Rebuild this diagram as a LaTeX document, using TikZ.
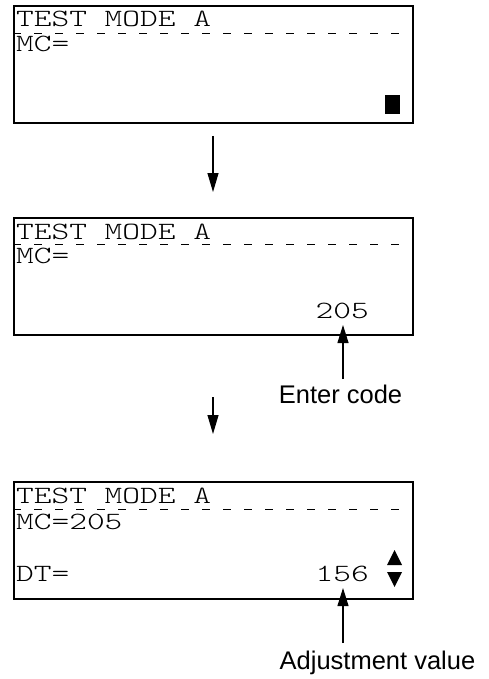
\documentclass[tikz,border=0pt]{standalone}
\usepackage{fontspec}
\newfontfamily\lcdfont[FakeStretch=1.36]{lmmonolt10-regular.otf}
\newfontfamily\lblfont{Liberation Sans}
\usetikzlibrary{arrows.meta}
\tikzset{
  lcdbox/.style={draw, line width=2.2pt, inner sep=0pt, minimum width=399pt, minimum height=117pt, anchor=north west},
  lcdtext/.style={inner sep=0pt, anchor=base west, font=\lcdfont\fontsize{24.8}{30}\selectfont},
  lcdnum/.style={inner sep=0pt, anchor=base east, font=\lcdfont\fontsize{24.8}{30}\selectfont},
  dashline/.style={line width=0.8pt, dash pattern=on 8pt off 13pt},
  flowarrow/.style={line width=1.2pt, -{Triangle[length=19pt,width=11pt]}},
  callout/.style={line width=1.1pt, -{Triangle[length=18pt,width=11pt]}},
  lbl/.style={inner sep=0pt, anchor=base, font=\lblfont\fontsize{25.5}{30}\selectfont},
  marker/.style={fill=black, draw=none}
}
\begin{document}
\begin{tikzpicture}[x=1pt,y=-1pt]
\useasboundingbox (0,0) rectangle (488,679);
% Box 1
\node[lcdbox] (b1) at (13,5) {};
\draw[dashline] (13,33) -- (412,33);
\node[lcdtext] (t1) at (16,26.7) {TEST MODE A};
\node[lcdtext] (m1) at (16,51.7) {MC=};
\fill[marker] (385,95) rectangle (400,114);
% arrow 1
\coordinate (a1s) at (213,136);
\coordinate (a1e) at (213,192);
\draw[flowarrow] (a1s) -- (a1e);
% Box 2
\node[lcdbox] (b2) at (13,217) {};
\draw[dashline] (13,244) -- (412,244);
\node[lcdtext] (t2) at (16,239) {TEST MODE A};
\node[lcdtext] (m2) at (16,263) {MC=};
\node[lcdnum] (n2) at (369,318.5) {205};
\node[lbl] (ec) at (340.5,403) {Enter code};
\coordinate (ec1) at (343,379);
\coordinate (ec2) at (343,325);
\draw[callout] (ec1) -- (ec2);
% arrow 2
\coordinate (a2s) at (213,397);
\coordinate (a2e) at (213,434);
\draw[flowarrow] (a2s) -- (a2e);
% Box 3
\node[lcdbox] (b3) at (13,481) {};
\draw[dashline] (13,509) -- (412,509);
\node[lcdtext] (t3) at (16,503) {TEST MODE A};
\node[lcdtext] (m3) at (16,529) {MC=205};
\node[lcdtext] (d3) at (16,581) {DT=};
\node[lcdnum] (n3) at (369,581) {156};
\fill[marker] (394.5,550) -- (402,565) -- (387,565) -- cycle;
\fill[marker] (387,572) -- (402,572) -- (394.5,587) -- cycle;
\node[lbl] (av) at (377.5,669) {Adjustment value};
\coordinate (av1) at (343,643);
\coordinate (av2) at (343,588);
\draw[callout] (av1) -- (av2);
\end{tikzpicture}
\end{document}
